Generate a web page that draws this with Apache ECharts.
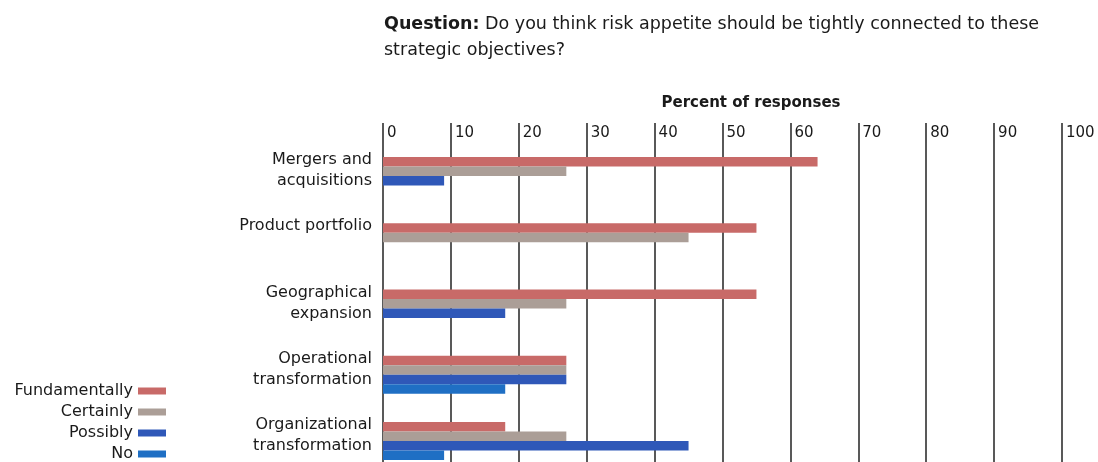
<!DOCTYPE html>
<html>
<head>
<meta charset="utf-8">
<script src="https://cdn.jsdelivr.net/npm/echarts@6/dist/echarts.min.js"></script>
<style>
  html, body { margin: 0; padding: 0; background: #fff; }
  #chart { width: 1098px; height: 462px; }
</style>
</head>
<body>
<div id="chart"></div>
<script>
// ---- data ----
const categories = ['Mergers and\nacquisitions', 'Product portfolio', 'Geographical\nexpansion', 'Operational\ntransformation', 'Organizational\ntransformation'];
const fundamentally = [64, 55, 55, 27, 18];
const certainly = [27, 45, 27, 27, 27];
const possibly = [9, 0, 18, 27, 45];
const no = [0, 0, 0, 18, 9];
const xTicks = [0, 10, 20, 30, 40, 50, 60, 70, 80, 90, 100];
const seriesNames = ['Fundamentally', 'Certainly', 'Possibly', 'No'];

const FONT = '"DejaVu Sans", "Liberation Sans", Arial, sans-serif';
const TXT = '#1a1a1a';
const colors = ['#c86a68', '#ab9e97', '#2f58b8', '#1f6fc4'];
const values = [fundamentally, certainly, possibly, no];

const chart = echarts.init(document.getElementById('chart'));
const gridTop = 143, gridH = 331, gridLeft = 383, gridRight = 36, labelShift = 26.5;

chart.setOption({
  animation: false,
  backgroundColor: '#ffffff',
  textStyle: { fontFamily: FONT, color: TXT },
  title: {
    left: 384, top: 11, padding: 0,
    text: '{b|Question:} Do you think risk appetite should be tightly connected to these\nstrategic objectives?',
    textStyle: {
      fontFamily: FONT, fontSize: 17.5, fontWeight: 'normal', color: TXT, lineHeight: 26,
      rich: { b: { fontFamily: FONT, fontSize: 17.5, fontWeight: 'bold', color: TXT, lineHeight: 26 } }
    }
  },
  graphic: [{
    type: 'text', x: 751, y: 103,
    style: { text: 'Percent of responses', font: 'bold 15px ' + FONT, fill: TXT, align: 'center', verticalAlign: 'middle' }
  }],
  legend: {
    orient: 'vertical', right: 1098 - 166, top: 383, align: 'right',
    icon: 'rect', itemWidth: 28, itemHeight: 7, itemGap: 5, padding: 0,
    data: seriesNames,
    textStyle: { fontFamily: FONT, fontSize: 16, color: TXT, lineHeight: 16 }
  },
  grid: [
    { left: gridLeft, right: gridRight, top: gridTop, height: gridH, outerBoundsMode: 'none', containLabel: false },
    { left: gridLeft, right: gridRight, top: gridTop - labelShift, height: gridH, outerBoundsMode: 'none', containLabel: false }
  ],
  xAxis: [{
    gridIndex: 0, type: 'value', position: 'top', min: 0, max: 100, interval: 10,
    axisLine: { show: false },
    axisTick: { show: true, length: 20, lineStyle: { color: '#222', width: 1.5 } },
    splitLine: { show: true, lineStyle: { color: '#222', width: 1.5 } },
    axisLabel: {
      show: true, align: 'left', verticalAlign: 'bottom', margin: 2, padding: [0, 0, 0, 4],
      fontFamily: FONT, fontSize: 15, color: TXT,
      formatter: function (v) { return xTicks.indexOf(v) >= 0 ? String(v) : ''; }
    }
  }, {
    gridIndex: 1, type: 'value', min: 0, max: 100, show: false
  }],
  yAxis: [{
    gridIndex: 0, type: 'category', inverse: true, data: categories,
    axisLine: { show: false }, axisTick: { show: false }, axisLabel: { show: false }, splitLine: { show: false }
  }, {
    gridIndex: 1, type: 'category', inverse: true, data: categories,
    axisLine: { show: false }, axisTick: { show: false }, splitLine: { show: false },
    axisLabel: {
      show: true, verticalAlign: 'top', align: 'right', margin: 11,
      fontFamily: FONT, fontSize: 16, lineHeight: 21, color: TXT
    }
  }],
  series: seriesNames.map(function (name, i) {
    return {
      name: name, type: 'bar', xAxisIndex: 0, yAxisIndex: 0,
      data: values[i], barWidth: 9.5, barGap: '0%',
      itemStyle: { color: colors[i] }
    };
  })
});
</script>
</body>
</html>
